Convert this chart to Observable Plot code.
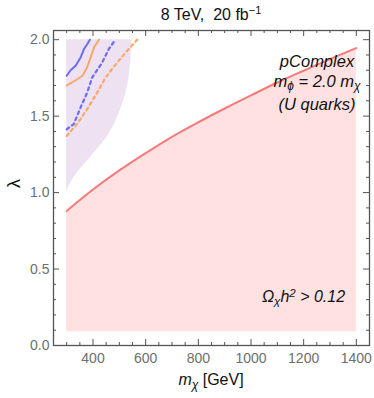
<!DOCTYPE html>
<html>
<head>
<meta charset="utf-8">
<script src="https://cdn.jsdelivr.net/npm/d3@7"></script>
<script src="https://cdn.jsdelivr.net/npm/@observablehq/plot@0.6"></script>
<style>
  body { margin: 0; background: #fff; font-family: "Liberation Sans", Arial, sans-serif; }
  #wrap { width: 374px; }
  #title { height: 26px; line-height: 29px; font-size: 16px; color: #111; box-sizing: border-box; padding-left: 53px; padding-right: 5px; text-align: center; white-space: pre; }
  #title sup { font-size: 11px; vertical-align: 0; position: relative; top: -6px; }
  #xlabel { height: 33px; line-height: 30px; font-size: 16px; color: #111; box-sizing: border-box; padding-left: 53px; padding-right: 5px; text-align: center; }
  #xlabel sub { font-size: 12px; vertical-align: 0; position: relative; top: 4px; font-style: italic; }
</style>
</head>
<body>
<div id="wrap">
  <div id="title">8 TeV,  20 fb<sup>−1</sup></div>
  <div id="chart"></div>
  <div id="xlabel"><i>m</i><sub>χ</sub> [GeV]</div>
</div>
<script>
// Relic density curve (Ω h² = 0.12 boundary)
const relicX = [300, 400, 500, 600, 700, 800, 900, 1000, 1100, 1200, 1300, 1400];
const relicY = [0.88, 1.02, 1.145, 1.258, 1.365, 1.46, 1.55, 1.636, 1.72, 1.797, 1.873, 1.945];
const relicFloor = 0.09;

// Purple excluded region (right boundary, left edge at 300 GeV)
const purpleY = [1.01, 1.10, 1.23, 1.36, 1.45, 1.53, 1.67, 1.80, 1.90, 2.0];
const purpleX = [300, 328, 390, 452, 482, 502, 528, 540, 545, 549];
const purpleLeft = 300;

// Limit lines
const blueSolidX = [300, 315, 334, 353, 366, 378, 388];
const blueSolidY = [1.764, 1.80, 1.83, 1.884, 1.94, 1.97, 2.0];
const orangeSolidX = [300, 330, 360, 378, 391, 404, 423];
const orangeSolidY = [1.70, 1.73, 1.764, 1.82, 1.884, 1.95, 2.0];
const blueDashX = [300, 327, 353, 378, 397, 435, 460, 485];
const blueDashY = [1.414, 1.448, 1.557, 1.655, 1.753, 1.851, 1.939, 2.0];
const orangeDashX = [300, 340, 378, 416, 448, 492, 530, 568];
const orangeDashY = [1.37, 1.45, 1.546, 1.655, 1.753, 1.851, 1.928, 2.0];

// Ticks
const xTickLabels = [400, 600, 800, 1000, 1200, 1400];
const xMinorTicks = d3.range(300, 1401, 50);
const yTickLabels = [0, 0.5, 1.0, 1.5, 2.0];
const yMinorTicks = d3.range(0, 21, 1).map(d => d / 10);

const zip = (xs, ys) => xs.map((x, i) => ({x, y: ys[i]}));
const relic = zip(relicX, relicY);
const purple = zip(purpleX, purpleY);
const blueSolid = zip(blueSolidX, blueSolidY);
const orangeSolid = zip(orangeSolidX, orangeSolidY);
const blueDash = zip(blueDashX, blueDashY);
const orangeDash = zip(orangeDashX, orangeDashY);

const W = 374, H = 339, mT = 4, mB = 20, mL = 53, mR = 5;
const fw = W - mL - mR, fh = H - mT - mB;
const axisColor = "#555";
const blue = "#6d6df2", orange = "#f6a96c", red = "#f57b7b";
const isMajorX = d => xTickLabels.includes(d);
const isMajorY = d => yTickLabels.some(v => Math.abs(v - d) < 1e-9);
const xMin = xMinorTicks.filter(d => !isMajorX(d));
const yMin = yMinorTicks.filter(d => !isMajorY(d));
const MAJ = 6, MIN = 3;
const tk = {stroke: axisColor, strokeWidth: 1};
const ann = {textAnchor: "middle", fontStyle: "italic", fill: "#111", fontSize: 16.5};

const chart = Plot.plot({
  width: W, height: H,
  marginTop: mT, marginBottom: mB, marginLeft: mL, marginRight: mR,
  style: {fontFamily: "'Liberation Sans', Arial, sans-serif", fontSize: "14px", background: "#fff"},
  x: {domain: [250, 1450]},
  y: {domain: [0, 2.06]},
  marks: [
    Plot.areaY(relic, {x: "x", y1: relicFloor, y2: "y", fill: "#ffe1e2", curve: "monotone-x"}),
    Plot.areaX(purple, {y: "y", x1: purpleLeft, x2: "x", fill: "#eee2f2", curve: "catmull-rom"}),
    Plot.line(relic, {x: "x", y: "y", stroke: red, strokeWidth: 2, curve: "monotone-x"}),
    Plot.line(blueDash, {x: "x", y: "y", stroke: blue, strokeWidth: 2.2, strokeDasharray: "3,3.5"}),
    Plot.line(orangeDash, {x: "x", y: "y", stroke: orange, strokeWidth: 2.2, strokeDasharray: "3,3.5"}),
    Plot.line(orangeSolid, {x: "x", y: "y", stroke: orange, strokeWidth: 2}),
    Plot.line(blueSolid, {x: "x", y: "y", stroke: blue, strokeWidth: 2}),
    // inward ticks on all four sides
    Plot.tickX(xMin, {x: d => d, insetTop: fh - MIN, ...tk}),
    Plot.tickX(xTickLabels, {x: d => d, insetTop: fh - MAJ, ...tk}),
    Plot.tickX(xMin, {x: d => d, insetBottom: fh - MIN, ...tk}),
    Plot.tickX(xTickLabels, {x: d => d, insetBottom: fh - MAJ, ...tk}),
    Plot.tickY(yMin, {y: d => d, insetRight: fw - MIN, ...tk}),
    Plot.tickY(yTickLabels, {y: d => d, insetRight: fw - MAJ, ...tk}),
    Plot.tickY(yMin, {y: d => d, insetLeft: fw - MIN, ...tk}),
    Plot.tickY(yTickLabels, {y: d => d, insetLeft: fw - MAJ, ...tk}),
    Plot.frame({stroke: axisColor, strokeWidth: 1.3}),
    Plot.axisX(xTickLabels, {anchor: "bottom", tickSize: 0, tickPadding: 8, color: "#6e6e6e", fontSize: 14, tickFormat: d => String(d), label: null}),
    Plot.axisY(yTickLabels, {anchor: "left", tickSize: 0, tickPadding: 4, color: "#6e6e6e", fontSize: 14, tickFormat: d3.format(".1f"), label: null}),
    Plot.text(["λ"], {frameAnchor: "left", textAnchor: "middle", dx: -39, dy: -4.5, rotate: -90, fontSize: 18, fill: "#111"}),
    Plot.text(["pComplex"], {frameAnchor: "top-right", dx: -52.5, dy: 25, ...ann}),
    Plot.text(["m_{ϕ} = 2.0 m_{χ}"], {frameAnchor: "top-right", dx: -52.5, dy: 45, ...ann}),
    Plot.text(["(U quarks)"], {frameAnchor: "top-right", dx: -52.5, dy: 68, ...ann}),
    Plot.text(["Ω_{χ}h^{2} > 0.12"], {frameAnchor: "bottom-right", dx: -66, dy: -44, ...ann, fontSize: 16})
  ]
});

// turn _{..} / ^{..} markup into sub/superscript tspans
d3.select(chart).selectAll("text").each(function () {
  const t = this.textContent;
  if (!/[_^]\{/.test(t)) return;
  const el = d3.select(this);
  el.text(null);
  const re = /([_^])\{([^}]*)\}|([^_^]+)/g;
  let m;
  while ((m = re.exec(t))) {
    if (m[3]) el.append("tspan").text(m[3]);
    else el.append("tspan")
      .attr("baseline-shift", m[1] === "_" ? "-22%" : "38%")
      .attr("font-size", "72%")
      .text(m[2]);
  }
});

document.getElementById("chart").appendChild(chart);
</script>
</body>
</html>
